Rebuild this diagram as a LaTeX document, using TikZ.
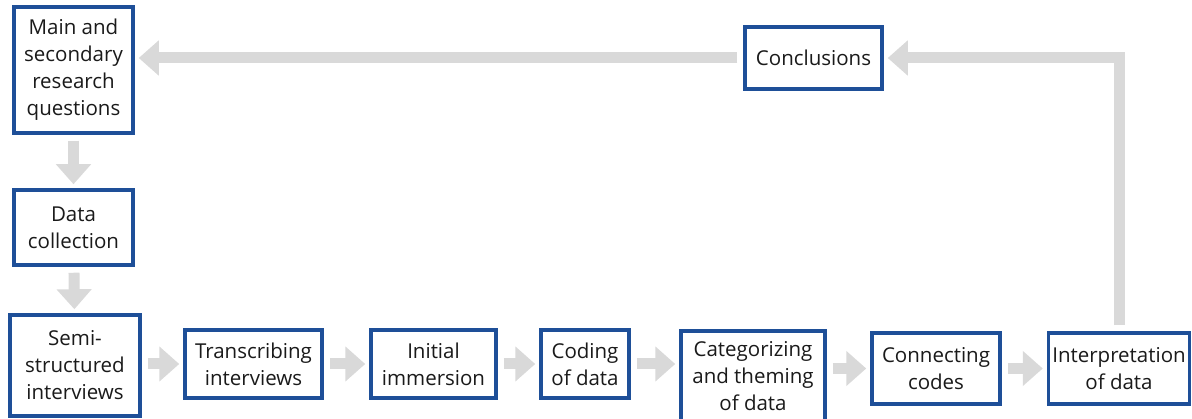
\documentclass[tikz,border=0pt]{standalone}
\usepackage{fontspec}
\setmainfont{Open Sans}
\usepackage{tikz}
\usetikzlibrary{arrows.meta}

\definecolor{boxblue}{HTML}{1E4F98}
\definecolor{flowgray}{HTML}{D9D9D9}
\definecolor{textgray}{HTML}{1A1A1A}

\begin{document}
\begin{tikzpicture}[x=1pt, y=-1pt,
                    every node/.style={font=\fontsize{20.5}{27}\selectfont, text=textgray},
                    stage/.style={draw=boxblue, line width=3.5pt, fill=white, align=center, inner sep=0pt},
                    flow/.style={draw=flowgray, line width=11pt, shorten <=6pt, shorten >=4pt,
                                 -{Triangle[width=34pt,length=20pt]}}]

\useasboundingbox (0,0) rectangle (1192,419);

\node[stage, minimum width=119pt, minimum height=126pt] (rq) at (73.5,70) {Main and\\secondary\\research\\questions};
\node[stage, minimum width=119pt, minimum height=75pt] (dc) at (73.5,227.5) {Data\\collection};
\node[stage, minimum width=130pt, minimum height=101pt] (ssi) at (75,365.5) {Semi-\\structured\\interviews};
\node[stage, minimum width=137pt, minimum height=68pt] (tr) at (253.5,364) {Transcribing\\interviews};
\node[stage, minimum width=125pt, minimum height=68pt] (im) at (433.5,364) {Initial\\immersion};
\node[stage, minimum width=88pt, minimum height=68pt] (cod) at (585,364) {Coding\\of data};
\node[stage, minimum width=144pt, minimum height=90pt] (cat) at (753,376) {Categorizing\\and theming\\of data};
\node[stage, minimum width=128pt, minimum height=71pt] (con) at (936,368.5) {Connecting\\codes};
\node[stage, minimum width=141pt, minimum height=71pt] (int) at (1119,368.5) {Interpretation\\of data};
\node[stage, minimum width=137pt, minimum height=62pt] (cl) at (813.5,58) {Conclusions};

% main flow
\draw[flow] (rq) -- (dc);
\draw[flow] (dc) -- (ssi);
\draw[flow] (ssi.east |- tr.west) -- (tr.west);
\draw[flow] (tr) -- (im);
\draw[flow] (im) -- (cod);
\draw[flow] (cod.east) -- (cat.west |- cod.east);
\draw[flow] (cat.east |- con.west) -- (con.west);
\draw[flow] (con) -- (int);

% feedback
\draw[flow] (int.north) |- (cl.east);
\draw[flow] (cl.west) -- (cl.west -| rq.east);
\end{tikzpicture}
\end{document}
